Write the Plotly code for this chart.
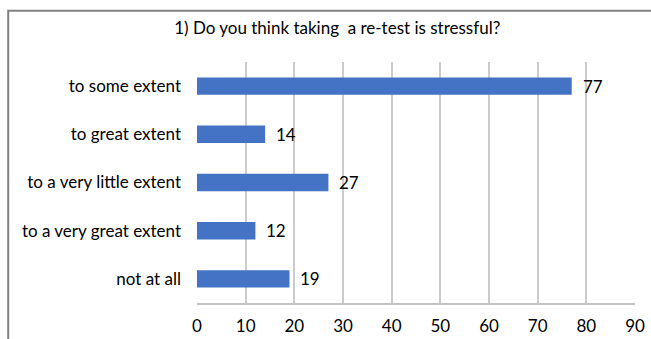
import plotly.graph_objects as go

categories = [
    "to some extent",
    "to great extent",
    "to a very little extent",
    "to a very great extent",
    "not at all",
]
counts = [77, 14, 27, 12, 19]
x_ticks = [0, 10, 20, 30, 40, 50, 60, 70, 80, 90]

FONT = "Lato, 'Open Sans', sans-serif"
BAR_COLOR = "#4472C4"

fig = go.Figure(
    go.Bar(
        y=categories,
        x=counts,
        orientation="h",
        marker=dict(color=BAR_COLOR, line=dict(width=0)),
        width=0.36,
        hoverinfo="skip",
    )
)

# value labels just past each bar end
for cat, val in zip(categories, counts):
    fig.add_annotation(
        x=val, y=cat, text=str(val), showarrow=False,
        xanchor="left", yanchor="middle", xshift=9,
        font=dict(family=FONT, size=17, color="#000000"),
    )

# chart frame (right and bottom edges run off the canvas)
fig.add_shape(
    type="rect", xref="paper", yref="paper",
    x0=-0.431, x1=1.1, y0=-0.3, y1=1.213,
    line=dict(color="#808080", width=2), fillcolor="rgba(0,0,0,0)",
    layer="below",
)

fig.update_layout(
    width=651, height=339,
    margin=dict(l=197, r=16, t=62, b=36),
    paper_bgcolor="#ffffff", plot_bgcolor="#ffffff",
    showlegend=False,
    font=dict(family=FONT, size=17, color="#000000"),
    title=dict(
        text="1) Do you think taking  a re-test is stressful?",
        x=0.518, xanchor="center", y=0.917, yanchor="middle",
        font=dict(family=FONT, size=17, color="#000000"),
    ),
    xaxis=dict(
        range=[0, 90], tickvals=x_ticks, ticks="",
        showgrid=True, gridcolor="#cccccc", gridwidth=1.5,
        showline=True, linecolor="#c4c4c4", linewidth=1.5,
        zeroline=False, ticklabelstandoff=7, automargin=False,
        tickfont=dict(family=FONT, size=17),
    ),
    yaxis=dict(
        categoryorder="array", categoryarray=categories, autorange="reversed",
        ticks="", showgrid=False, zeroline=False, showline=False,
        ticklabelstandoff=15, automargin=False,
        tickfont=dict(family=FONT, size=17),
    ),
)

fig.write_html("out.html")
